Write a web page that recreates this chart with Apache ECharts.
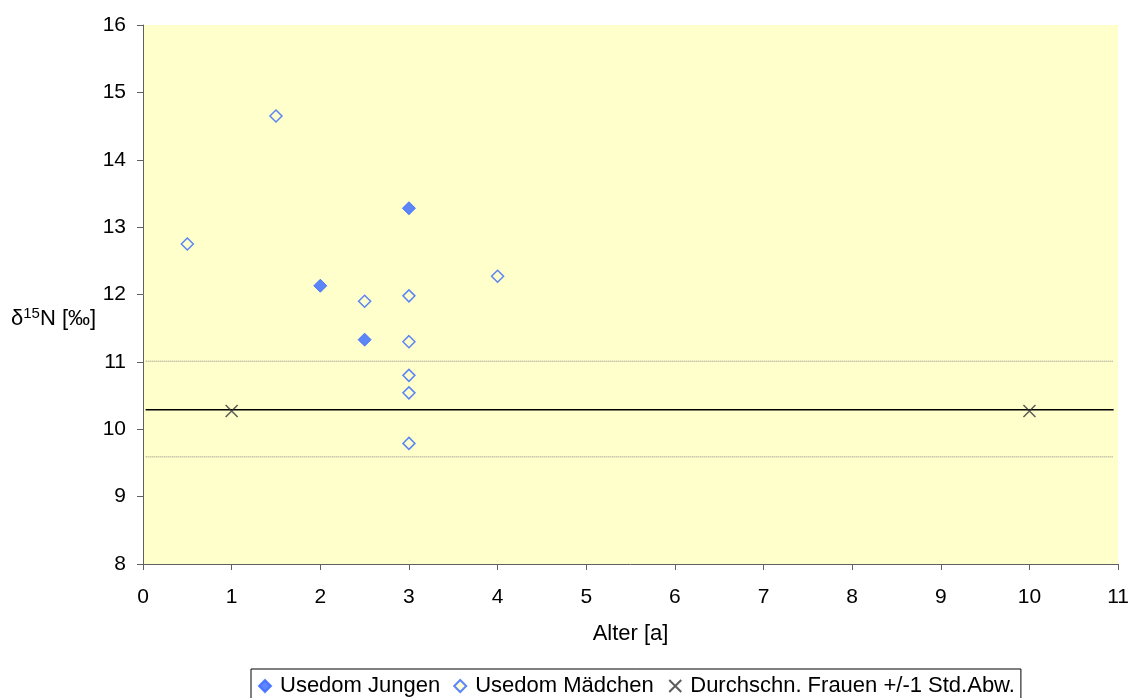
<!DOCTYPE html>
<html>
<head>
<meta charset="utf-8">
<script src="https://cdn.jsdelivr.net/npm/echarts@6/dist/echarts.min.js"></script>
<style>
html,body{margin:0;padding:0;background:#fff;}
#c{width:1132px;height:698px;}
</style>
</head>
<body>
<div id="c"></div>
<script>
// Data
const jungen = [[2, 12.13], [2.5, 11.33], [3, 13.28]];
const maedchen = [[0.5, 12.75], [1.5, 14.65], [2.5, 11.9], [3, 11.98], [3, 11.3], [3, 10.8], [3, 10.54], [3, 9.79], [4, 12.27]];
const frauenMarks = [[1, 10.27], [10, 10.27]];
const frauenMeanLine = [[0.03, 10.29], [10.95, 10.29]];
const frauenUpperLine = [[0.03, 11.01], [10.95, 11.01]];
const frauenLowerLine = [[0.03, 9.59], [10.95, 9.59]];
const seriesNames = ['Usedom Jungen', 'Usedom Mädchen', 'Durchschn. Frauen +/-1 Std.Abw.'];
const xTitle = 'Alter [a]';

const FONT = 'Liberation Sans, Arial, sans-serif';
const blue = '#3366FF';
const crossPath = 'path://M0,0L10,10M10,0L0,10';

const chart = echarts.init(document.getElementById('c'), null, {renderer: 'canvas'});
chart.setOption({
  animation: false,
  textStyle: {fontFamily: FONT, color: '#000'},
  grid: {left: 143, top: 25, right: 12, bottom: 134, show: true, backgroundColor: '#FFFFCC', borderWidth: 0},
  xAxis: {
    type: 'value', min: 0, max: 11, interval: 1,
    name: xTitle, nameLocation: 'middle', nameGap: 59,
    nameTextStyle: {fontSize: 22, fontFamily: FONT, color: '#000'},
    axisLine: {show: true, lineStyle: {color: '#606060', width: 1}},
    axisTick: {show: true, length: 6, lineStyle: {color: '#606060'}},
    axisLabel: {fontSize: 21, fontFamily: FONT, color: '#000', margin: 23},
    splitLine: {show: false}
  },
  yAxis: {
    type: 'value', min: 8, max: 16, interval: 1,
    axisLine: {show: true, lineStyle: {color: '#606060', width: 1}},
    axisTick: {show: true, length: 6, lineStyle: {color: '#606060'}},
    axisLabel: {fontSize: 21, fontFamily: FONT, color: '#000', margin: 17},
    splitLine: {show: false}
  },
  legend: {
    data: [
      {name: seriesNames[0], icon: 'diamond'},
      {name: seriesNames[1], icon: 'diamond'},
      {name: seriesNames[2], icon: crossPath}
    ],
    left: 251, top: 669,
    padding: [6, 6, 8, 7],
    borderColor: '#000', borderWidth: 1,
    itemWidth: 12, itemHeight: 12, itemGap: 13,
    textStyle: {fontSize: 22, fontFamily: FONT, color: '#000', padding: [0, 0, 0, 4]}
  },
  graphic: [{
    type: 'text', left: 11, top: 306,
    style: {
      text: '{a|δ}{s|15}{a|N [‰]}',
      rich: {
        a: {fontSize: 22, fontFamily: FONT, fill: '#000', verticalAlign: 'bottom', lineHeight: 24},
        s: {fontSize: 15, fontFamily: FONT, fill: '#000', verticalAlign: 'top', lineHeight: 24, padding: [0, 0, 9, 0]}
      }
    }
  }],
  series: [
    {name: 'meanLine', type: 'line', data: frauenMeanLine, symbol: 'none', silent: true,
     lineStyle: {color: '#000', width: 1.5}, z: 1},
    {name: 'upperLine', type: 'line', data: frauenUpperLine, symbol: 'none', silent: true,
     lineStyle: {color: '#808080', width: 1, type: [1, 1]}, z: 1},
    {name: 'lowerLine', type: 'line', data: frauenLowerLine, symbol: 'none', silent: true,
     lineStyle: {color: '#808080', width: 1, type: [1, 1]}, z: 1},
    {name: seriesNames[2], type: 'scatter', data: frauenMarks, symbol: crossPath, symbolSize: 12,
     itemStyle: {color: 'none', borderColor: '#333', borderWidth: 1.5}, z: 3},
    {name: seriesNames[1], type: 'scatter', data: maedchen, symbol: 'diamond', symbolSize: 12,
     itemStyle: {color: '#FFFFCC', borderColor: blue, borderWidth: 1.5}, z: 3},
    {name: seriesNames[0], type: 'scatter', data: jungen, symbol: 'diamond', symbolSize: 13,
     itemStyle: {color: blue, borderColor: blue, borderWidth: 1}, z: 3}
  ]
});
</script>
</body>
</html>
